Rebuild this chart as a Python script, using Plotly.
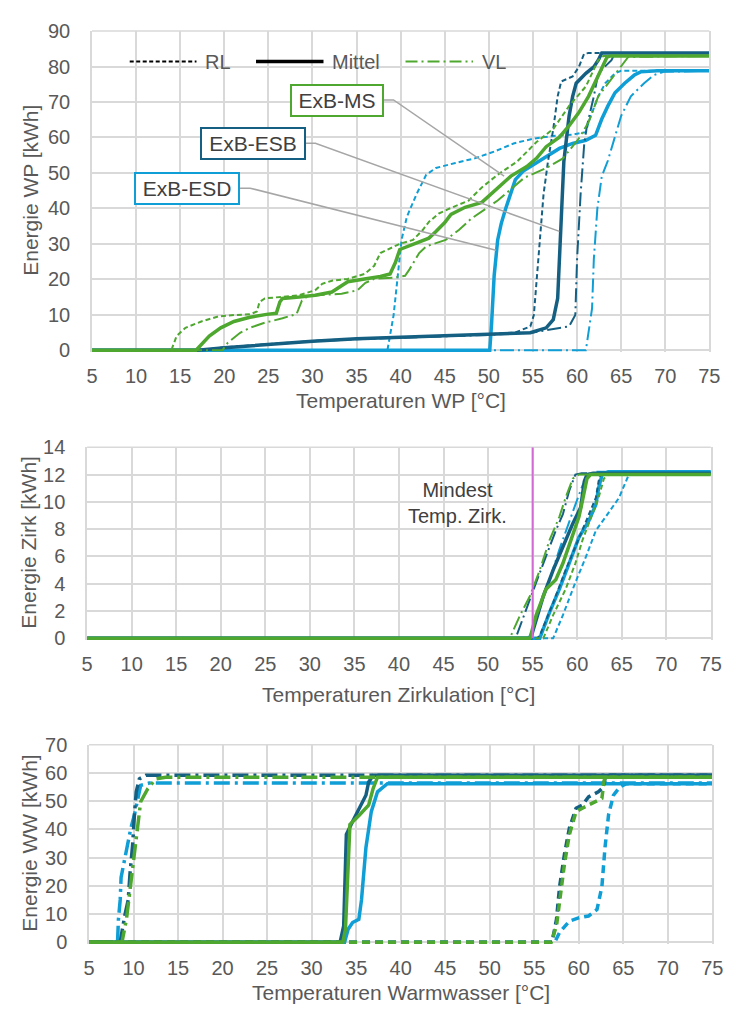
import plotly.graph_objects as go

W, H = 736, 1013
GREEN = "#4EA72E"
DARK = "#156082"
LIGHT = "#0F9ED5"
GRID = "#D9D9D9"
TXT = "#595959"
FONT = "Liberation Sans, Arial, sans-serif"

# ---------------- Chart 1: Energie WP ----------------
wp_ms_rl_t = [5, 14.0, 14.6, 15.6, 17.4, 19.3, 21.1, 22.9, 23.7, 24.0, 24.6, 26.6, 28.5, 30.3, 31.1, 32.2, 34.0,
              35.9, 37.0, 37.7, 38.8, 39.9, 41.4, 42.5, 43.2, 44.3, 45.5, 47.7, 49.2, 51.0, 53.2, 55.4, 57.3, 59.1,
              61.0, 62.4, 63.0, 75]
wp_ms_rl_e = [0, 0, 4.0, 6.3, 8.1, 9.5, 9.9, 10.1, 10.9, 13.6, 14.6, 15.0, 15.5, 16.9, 18.7, 19.6, 20.1,
              21.5, 23.8, 27.4, 28.8, 30.0, 31.1, 33.9, 36.2, 38.5, 39.9, 42.2, 45.9, 49.5, 53.2, 58.7, 62.4, 68.9,
              74.4, 81.8, 83.0, 83.0]
wp_ms_mi_t = [5, 16.8, 18.3, 19.6, 21.1, 22.9, 24.8, 25.9, 26.3, 26.6, 28.5, 30.3, 32.2, 33.3, 34.0, 35.9, 37.7,
              38.8, 39.4, 39.9, 41.4, 43.2, 44.0, 45.0, 45.7, 47.3, 49.2, 50.6, 52.5, 54.3, 55.4, 56.5, 58.0, 59.1,
              60.2, 61.3, 62.4, 63.4, 63.8, 75]
wp_ms_mi_e = [0, 0, 3.95, 6.3, 8.1, 9.3, 10.1, 10.4, 13.6, 14.6, 15.0, 15.5, 16.4, 18.2, 19.3, 20.1, 20.8,
              21.5, 24.7, 28.4, 29.8, 31.6, 33.5, 36.0, 38.3, 40.3, 41.7, 44.9, 49.1, 51.8, 54.1, 57.4, 60.1, 63.3,
              67.0, 71.6, 77.2, 82.7, 83.0, 83.0]
wp_ms_vl_t = [5, 19.8, 20.4, 21.8, 22.9, 24.4, 26.6, 28.2, 28.8, 29.5, 33.3, 35.1, 36.0, 37.0, 39.3, 40.5, 41.0,
              42.1, 42.9, 44.0, 45.1, 46.6, 48.0, 51.0, 54.0, 56.5, 58.4, 60.2, 61.3, 62.4, 63.5, 65.8, 75]
wp_ms_vl_e = [0, 0, 2.1, 4.9, 6.3, 7.6, 9.0, 10.2, 14.0, 15.3, 15.9, 16.9, 19.0, 20.1, 20.5, 21.0, 22.8,
              27.4, 29.3, 30.2, 31.1, 33.9, 37.1, 42.2, 48.6, 51.4, 54.1, 59.7, 64.3, 71.6, 75.3, 82.7, 83.0]

wp_esb_rl_t = [5, 17, 20, 25, 30, 35, 40, 45, 50, 53, 54.7, 55.1, 55.6, 56.2, 56.7, 57.3, 57.8, 58.2, 59.5, 60.2,
               60.8, 61.3, 75]
wp_esb_rl_e = [0, 0, 0.8, 1.8, 2.6, 3.2, 3.6, 4.0, 4.5, 5.0, 6.7, 9.9, 25.6, 44.0, 53.2, 62.4, 71.6, 75.8, 77.2, 79.9,
               83.6, 83.8, 83.8]
wp_esb_mi_t = [5, 17, 20, 25, 30, 35, 40, 45, 50, 54.7, 56.5, 57.3, 57.8, 58.0, 58.4, 58.5, 58.8, 59.1, 59.5, 59.9,
               61.0, 61.9, 62.4, 62.8, 75]
wp_esb_mi_e = [0, 0, 0.7, 1.7, 2.5, 3.2, 3.6, 4.0, 4.4, 4.9, 6.3, 8.6, 14.6, 25.6, 44.0, 53.2, 59.7, 66.1, 71.6, 75.3,
               78.1, 79.9, 81.8, 83.8, 83.8]
wp_esb_vl_t = [5, 17, 20, 25, 30, 35, 40, 45, 50, 55, 57, 59.1, 59.8, 60.0, 60.4, 60.8, 61.1, 61.9, 62.4, 63.9,
               64.3, 75]
wp_esb_vl_e = [0, 0, 0.7, 1.7, 2.5, 3.1, 3.5, 3.9, 4.3, 5.0, 5.8, 6.7, 9.9, 25.6, 44.0, 57.8, 63.0, 71.6, 78.1, 81.8,
               83.8, 83.8]

wp_esd_rl_t = [5, 38.5, 39.2, 39.7, 40.1, 40.7, 41.8, 42.9, 44.0, 46.2, 48.4, 50.6, 52.8, 55.1, 57.3, 59.5, 61.0,
               61.3, 61.9, 62.4, 63.2, 64.3, 65.0, 75]
wp_esd_rl_e = [0, 0, 9.9, 21.9, 31.1, 37.6, 44.0, 49.5, 51.4, 52.8, 54.1, 56.0, 58.3, 59.7, 60.4, 60.8, 61.5,
               64.3, 68.0, 71.6, 75.3, 78.1, 78.8, 78.8]
wp_esd_mi_t = [5, 50.1, 50.3, 50.6, 51.0, 51.4, 51.9, 52.5, 53.0, 53.9, 55.4, 56.9, 58.0, 59.5, 61.0, 62.1, 62.8,
               63.5, 64.3, 65.4, 66.5, 67.2, 69.1, 75]
wp_esd_mi_e = [0, 0, 7.2, 21.0, 31.1, 35.7, 39.9, 44.0, 48.1, 50.5, 52.8, 55.1, 56.9, 58.3, 59.2, 60.6, 65.2,
               68.9, 72.6, 75.3, 77.6, 78.5, 78.8, 78.8]
wp_esd_vl_t = [5, 61.0, 61.7, 61.9, 62.3, 62.8, 63.5, 64.3, 65.0, 66.1, 67.6, 68.7, 69.8, 75]
wp_esd_vl_e = [0, 0, 11.8, 25.6, 40.0, 49.0, 53.5, 60.6, 66.1, 71.6, 75.3, 77.6, 78.5, 78.8]

# ---------------- Chart 2: Energie Zirk ----------------
zk_esd_rl_t = [5, 57.3, 58.4, 59.8, 61.0, 62.1, 63.2, 64.7, 65.8, 66.5, 75]
zk_esd_rl_e = [0, 0, 1.7, 4.1, 6.0, 7.9, 8.9, 10.3, 12.0, 12.2, 12.2]
zk_esd_mi_t = [5, 55.8, 56.9, 58.0, 59.1, 60.2, 61.3, 62.1, 62.4, 62.8, 63.5, 75]
zk_esd_mi_e = [0, 0, 1.9, 3.6, 5.5, 7.4, 8.6, 9.8, 11.0, 12.0, 12.2, 12.2]
zk_esd_vl_t = [5, 54.4, 54.7, 55.8, 56.9, 58.0, 59.1, 59.8, 60.6, 61.3, 62.0, 75]
zk_esd_vl_e = [0, 0, 0.2, 2.2, 4.3, 6.5, 8.6, 9.8, 11.2, 12.0, 12.2, 12.2]
zk_esb_rl_t = [5, 55.5, 55.8, 57.3, 58.7, 60.2, 61.3, 62.1, 62.4, 62.6, 63.2, 75]
zk_esb_rl_e = [0, 0, 0.2, 2.6, 5.0, 7.4, 9.1, 10.3, 11.5, 12.0, 12.1, 12.1]
zk_esb_mi_t = [5, 54.8, 55.1, 56.2, 57.3, 58.4, 59.5, 60.4, 60.8, 61.1, 61.8, 75]
zk_esb_mi_e = [0, 0, 0.7, 3.1, 5.0, 6.7, 8.4, 9.6, 11.5, 12.0, 12.1, 12.1]
zk_esb_vl_t = [5, 52.9, 53.2, 54.3, 55.4, 56.5, 57.6, 58.4, 59.1, 59.8, 60.5, 75]
zk_esb_vl_e = [0, 0, 0.2, 2.2, 4.1, 6.0, 7.9, 9.1, 10.8, 12.0, 12.1, 12.1]
zk_ms_rl_t = [5, 56.2, 57.3, 58.7, 59.8, 60.6, 61.7, 62.4, 63.0, 63.5, 75]
zk_ms_rl_e = [0, 0, 1.7, 3.6, 5.5, 7.2, 9.1, 10.3, 11.7, 12.0, 12.0]
zk_ms_mi_t = [5, 54.7, 55.4, 56.5, 57.6, 58.4, 59.3, 60.2, 60.6, 61.1, 61.5, 75]
zk_ms_mi_e = [0, 0, 1.7, 3.6, 4.3, 5.5, 7.2, 8.9, 10.1, 11.7, 12.0, 12.0]
zk_ms_vl_t = [5, 52.3, 52.5, 53.6, 54.7, 55.8, 56.9, 58.0, 58.7, 59.5, 60.2, 75]
zk_ms_vl_e = [0, 0, 0.1, 1.7, 3.1, 5.0, 7.2, 8.9, 10.3, 11.7, 12.0, 12.0]

# ---------------- Chart 3: Energie WW ----------------
ww_esd_vl_t = [5, 8.2, 8.3, 8.5, 8.6, 9.0, 9.4, 9.7, 10.1, 10.5, 10.8, 11.75, 75]
ww_esd_vl_e = [0, 0, 8.0, 15.0, 23.0, 30.0, 36.0, 40.5, 45.2, 52.1, 55.6, 56.4, 56.4]
ww_esb_vl_t = [5, 8.5, 9.0, 9.4, 9.6, 9.9, 10.1, 10.3, 10.65, 11.4, 75]
ww_esb_vl_e = [0, 0, 9.3, 15.0, 24.3, 34.7, 45.2, 53.3, 57.9, 59.2, 59.2]
ww_ms_vl_t = [5, 8.7, 9.2, 9.55, 9.9, 10.3, 10.5, 10.8, 11.6, 12.5, 13.6, 75]
ww_ms_vl_e = [0, 0, 8.1, 17.4, 27.8, 37.1, 44.0, 49.8, 54.4, 57.9, 58.5, 58.5]
ww_esd_mi_t = [5, 33.7, 34.1, 34.6, 35.3, 35.6, 36.1, 36.7, 37.4, 38.5, 75]
ww_esd_mi_e = [0, 0, 4.6, 7.0, 8.1, 15.0, 33.6, 46.3, 53.3, 56.2, 56.2]
ww_esb_mi_t = [5, 33.2, 33.6, 33.9, 34.6, 35.4, 36.1, 36.4, 36.9, 75]
ww_esb_mi_e = [0, 0, 5.8, 38.2, 42.8, 47.5, 52.1, 56.7, 59.2, 59.2]
ww_ms_mi_t = [5, 33.5, 33.8, 34.3, 35.4, 36.4, 36.9, 37.4, 75]
ww_ms_mi_e = [0, 0, 4.6, 41.7, 45.2, 48.6, 54.4, 58.5, 58.5]
ww_esd_rl_t = [5, 57.3, 57.85, 58.95, 60.05, 61.1, 62.05, 62.6, 62.95, 63.35, 63.9, 64.6, 65.35, 75]
ww_esd_rl_e = [0, 0, 3.5, 7.5, 8.7, 9.3, 11.6, 19.7, 33.6, 45.2, 52.1, 55.0, 56.2, 56.2]
ww_esb_rl_t = [5, 57.0, 57.5, 57.85, 58.4, 58.95, 59.7, 60.4, 61.1, 62.2, 62.8, 63.0, 75]
ww_esb_rl_e = [0, 0, 8.1, 19.7, 31.3, 40.5, 47.5, 48.6, 51.5, 53.3, 55.0, 59.2, 59.2]
ww_ms_rl_t = [5, 56.9, 57.5, 57.85, 58.4, 58.95, 59.7, 60.4, 61.5, 62.6, 62.85, 63.0, 75]
ww_ms_rl_e = [0, 0, 5.8, 15.0, 27.8, 38.2, 46.3, 47.5, 49.2, 51.0, 57.3, 58.5, 58.5]

# ticks / axis texts
x_ticks = list(range(5, 80, 5))
y1_ticks = list(range(0, 100, 10))
y2_ticks = list(range(0, 16, 2))
y3_ticks = list(range(0, 80, 10))

# annotations in chart 1 (labels and leader line points, data coords)
box_labels = ["ExB-MS", "ExB-ESB", "ExB-ESD"]
box_colors = [GREEN, DARK, LIGHT]
box_t = [32.8, 23.24, 15.83]
box_e = [70.3, 58.3, 45.7]
box_w = [90, 102, 102]
leader_t = [[38.0, 39.19, 51.73], [29.11, 30.33, 58.0], [21.72, 22.94, 50.81]]
leader_e = [[70.6, 70.6, 49.1], [58.35, 58.35, 33.5], [45.7, 45.7, 28.2]]

legend_names = ["RL", "Mittel", "VL"]
legend_colors = ["#000000", "#000000", GREEN]
legend_t0 = [9.28, 23.6, 40.55]
legend_t1 = [16.85, 31.25, 48.2]
legend_text_t = [17.6, 32.0, 48.95]
legend_e = 81.4

min_temp_zirk = 55

fig = go.Figure()

top_dash = {"RL": ("5px,3px", 2), "Mittel": ("solid", 3.5), "VL": ("14px,4px,2px,4px", 2)}
mid_dash = {"RL": ("5px,3px", 2), "Mittel": ("solid", 3.5), "VL": ("14px,4px,2px,4px", 2)}
bot_dash = {"RL": ("8px,5px", 3.5), "Mittel": ("solid", 3.5), "VL": ("16px,5px,3px,5px", 3.5)}


def add(t, e, color, kind, styles, xa, ya):
    dash, width = styles[kind]
    fig.add_trace(go.Scatter(x=t, y=e, mode="lines", xaxis=xa, yaxis=ya, showlegend=False,
                             hoverinfo="skip",
                             line=dict(color=color, width=width, dash=dash)))


for (t, e, c, k) in [
    (wp_esd_rl_t, wp_esd_rl_e, LIGHT, "RL"), (wp_esd_vl_t, wp_esd_vl_e, LIGHT, "VL"),
    (wp_esd_mi_t, wp_esd_mi_e, LIGHT, "Mittel"),
    (wp_esb_rl_t, wp_esb_rl_e, DARK, "RL"), (wp_esb_vl_t, wp_esb_vl_e, DARK, "VL"),
    (wp_esb_mi_t, wp_esb_mi_e, DARK, "Mittel"),
    (wp_ms_rl_t, wp_ms_rl_e, GREEN, "RL"), (wp_ms_vl_t, wp_ms_vl_e, GREEN, "VL"),
    (wp_ms_mi_t, wp_ms_mi_e, GREEN, "Mittel"),
]:
    add(t, e, c, k, top_dash, "x", "y")

for lt, le in zip(leader_t, leader_e):
    fig.add_trace(go.Scatter(x=lt, y=le, mode="lines", xaxis="x", yaxis="y", showlegend=False,
                             hoverinfo="skip", line=dict(color="#A6A6A6", width=1.5)))

for (t, e, c, k) in [
    (zk_esd_rl_t, zk_esd_rl_e, LIGHT, "RL"), (zk_esd_vl_t, zk_esd_vl_e, LIGHT, "VL"),
    (zk_esd_mi_t, zk_esd_mi_e, LIGHT, "Mittel"),
    (zk_esb_rl_t, zk_esb_rl_e, DARK, "RL"), (zk_esb_vl_t, zk_esb_vl_e, DARK, "VL"),
    (zk_esb_mi_t, zk_esb_mi_e, DARK, "Mittel"),
    (zk_ms_rl_t, zk_ms_rl_e, GREEN, "RL"), (zk_ms_vl_t, zk_ms_vl_e, GREEN, "VL"),
    (zk_ms_mi_t, zk_ms_mi_e, GREEN, "Mittel"),
]:
    add(t, e, c, k, mid_dash, "x2", "y2")

for (t, e, c, k) in [
    (ww_esd_rl_t, ww_esd_rl_e, LIGHT, "RL"), (ww_esd_vl_t, ww_esd_vl_e, LIGHT, "VL"),
    (ww_esd_mi_t, ww_esd_mi_e, LIGHT, "Mittel"),
    (ww_esb_rl_t, ww_esb_rl_e, DARK, "RL"), (ww_esb_vl_t, ww_esb_vl_e, DARK, "VL"),
    (ww_esb_mi_t, ww_esb_mi_e, DARK, "Mittel"),
    (ww_ms_rl_t, ww_ms_rl_e, GREEN, "RL"), (ww_ms_vl_t, ww_ms_vl_e, GREEN, "VL"),
    (ww_ms_mi_t, ww_ms_mi_e, GREEN, "Mittel"),
]:
    add(t, e, c, k, bot_dash, "x3", "y3")


def xd(a, b):
    return [a / W, b / W]


def yd(top, bottom):
    return [1 - bottom / H, 1 - top / H]


PAD = 2.0  # px below the zero line so thick lines at 0 are not clipped


def xaxis(dom, anchor):
    return dict(domain=dom, anchor=anchor, range=[5, 75], tickvals=x_ticks, showgrid=True,
                gridcolor=GRID, gridwidth=1.5, showline=False,
                zeroline=False, ticks="outside", ticklen=6, tickcolor="rgba(0,0,0,0)",
                tickfont=dict(family=FONT, size=20, color=TXT), fixedrange=True)


def yaxis(top, bottom, anchor, ymax, tv):
    per_unit = (bottom - top) / ymax
    return dict(domain=yd(top, bottom + PAD), anchor=anchor, range=[-PAD / per_unit, ymax], tickvals=tv,
                showgrid=True, gridcolor=GRID, gridwidth=1.5, showline=True, linecolor=GRID, linewidth=1.5,
                mirror=True, zeroline=False, ticks="outside", ticklen=16, tickcolor="rgba(0,0,0,0)",
                tickfont=dict(family=FONT, size=20, color=TXT), fixedrange=True)


annotations = []
for lab, col, bt, be, bw in zip(box_labels, box_colors, box_t, box_e, box_w):
    annotations.append(dict(x=bt, y=be, xref="x", yref="y", text=lab, showarrow=False,
                            font=dict(family=FONT, size=21, color="#404040"),
                            bordercolor=col, borderwidth=2, borderpad=0, bgcolor="white",
                            width=bw, height=29, align="center"))

shapes = []
for name, col, t0, t1, tt, (dash, w) in zip(legend_names, legend_colors, legend_t0, legend_t1, legend_text_t,
                                           [("4px,2.5px", 2), ("solid", 3.5), ("12px,4px,2px,4px", 2)]):
    shapes.append(dict(type="line", xref="x", yref="y", x0=t0, x1=t1, y0=legend_e, y1=legend_e,
                       line=dict(color=col, width=w, dash=dash)))
    annotations.append(dict(x=tt, y=legend_e, xref="x", yref="y", text=name, showarrow=False,
                            xanchor="left", yanchor="middle",
                            font=dict(family=FONT, size=20, color=TXT)))

# top borders of the plot areas
for xr, yr in [("x", "y"), ("x2", "y2"), ("x3", "y3")]:
    shapes.append(dict(type="line", xref=xr + " domain", yref=yr + " domain", x0=0, x1=1, y0=1, y1=1,
                       line=dict(color=GRID, width=1.5), layer="below"))

shapes.append(dict(type="line", xref="x2", yref="y2", x0=min_temp_zirk, x1=min_temp_zirk, y0=0, y1=14,
                   line=dict(color="#D36AD3", width=2)))
annotations.append(dict(x=46.6, y=9.9, xref="x2", yref="y2", text="Mindest<br>Temp. Zirk.",
                        showarrow=False, align="center",
                        font=dict(family=FONT, size=20, color="#404040")))

# axis titles
for txt, x, y, ang in [
    ("Temperaturen WP [°C]", 404, 397, 0),
    ("Temperaturen Zirkulation [°C]", 402, 697, 0),
    ("Temperaturen Warmwasser [°C]", 404, 1001, 0),
    ("Energie WP [kWh]", 25, 183, -90),
    ("Energie Zirk [kWh]", 23, 542, -90),
    ("Energie WW [kWh]", 24, 849, -90),
]:
    annotations.append(dict(x=x / W, y=1 - y / H, xref="paper", yref="paper", text=txt, showarrow=False,
                            textangle=ang, xanchor="center", yanchor="middle",
                            font=dict(family=FONT, size=21, color=TXT)))

fig.update_layout(
    width=W, height=H, margin=dict(l=0, r=0, t=0, b=0),
    paper_bgcolor="white", plot_bgcolor="white", showlegend=False,
    xaxis=xaxis(xd(88, 720), "y"),
    yaxis=yaxis(20.5, 346, "x", 90, y1_ticks),
    xaxis2=xaxis(xd(83, 721.5), "y2"),
    yaxis2=yaxis(445, 640, "x2", 14, y2_ticks),
    xaxis3=xaxis(xd(85, 723), "y3"),
    yaxis3=yaxis(748.5, 950, "x3", 70, y3_ticks),
    annotations=annotations, shapes=shapes,
)

fig.write_html("out.html")
